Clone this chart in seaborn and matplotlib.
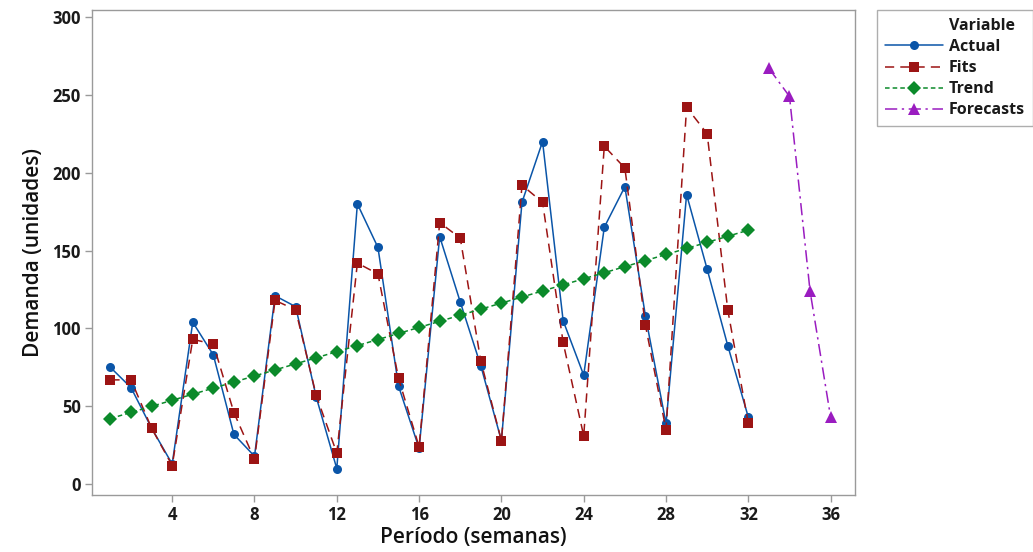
import numpy as np
import pandas as pd
import seaborn as sns
import matplotlib.pyplot as plt
from matplotlib.lines import Line2D

# semanas observadas y pronosticadas
periodo = list(range(1, 33))
periodo_fc = [33, 34, 35, 36]

actual = [75, 62, 36, 13, 104, 83, 32, 18, 121, 114, 56, 10, 180, 152, 63, 23,
          159, 117, 76, 28, 181, 220, 105, 70, 165, 191, 108, 39, 186, 138, 89, 43]
fits = [67, 67, 36, 12, 93, 90, 46, 16, 118, 112, 57, 20, 142, 135, 68, 24,
        168, 158, 79, 28, 192, 181, 91, 31, 217, 203, 102, 35, 242, 225, 112, 39]
trend = [42.2, 46.1, 50.0, 53.9, 57.8, 61.7, 65.6, 69.5, 73.4, 77.3, 81.2, 85.1,
         89.0, 92.9, 96.8, 100.7, 104.6, 108.5, 112.4, 116.3, 120.2, 124.1, 128.0, 131.9,
         135.8, 139.7, 143.6, 147.5, 151.4, 155.3, 159.2, 163.1]
forecasts = [267, 249, 124, 43]

x_ticks = [4, 8, 12, 16, 20, 24, 28, 32, 36]
y_ticks = [0, 50, 100, 150, 200, 250, 300]

sns.set_style("white")
plt.rcParams['font.family'] = ['Open Sans', 'DejaVu Sans']

c_act = "#0a55a8"
c_fit = "#9c1414"
c_tr = "#0b8a2a"
c_fc = "#9a1cc0"

fig = plt.figure(figsize=(10.33, 5.52), dpi=100)
ax = fig.add_axes([0.089, 0.103, 0.739, 0.879])

sns.lineplot(x=periodo, y=actual, ax=ax, color=c_act, marker="o", markersize=6.5,
             markeredgewidth=0, linewidth=1.1, linestyle="-")
sns.lineplot(x=periodo, y=fits, ax=ax, color=c_fit, marker="s", markersize=7,
             markeredgewidth=0, linewidth=1.1, linestyle=(0, (6, 4)))
sns.lineplot(x=periodo, y=trend, ax=ax, color=c_tr, marker="D", markersize=7,
             markeredgewidth=0, linewidth=1.1, linestyle=(0, (3, 2)))
sns.lineplot(x=periodo_fc, y=forecasts, ax=ax, color=c_fc, marker="^", markersize=9,
             markeredgewidth=0, linewidth=1.1, linestyle=(0, (8, 3, 1.5, 3)))

ax.set_xlim(0.1, 37.2)
ax.set_ylim(-7, 304.5)
ax.set_xticks(x_ticks)
ax.set_yticks(y_ticks)
ax.tick_params(axis="both", direction="out", length=5, width=1, color="#9a9a9a",
               labelsize=12, pad=3, bottom=True, left=True, labelcolor="#1a1a1a")
for lab in ax.get_xticklabels() + ax.get_yticklabels():
    lab.set_fontweight("bold")
for s in ax.spines.values():
    s.set_color("#9a9a9a")
    s.set_linewidth(1)

ax.set_xlabel("Período (semanas)", fontsize=15, fontweight="semibold", labelpad=2,
              color="#111111")
ax.set_ylabel("Demanda (unidades)", fontsize=15, fontweight="semibold", labelpad=6,
              color="#111111")

handles = [
    Line2D([], [], color=c_act, marker="o", markersize=6.5, markeredgewidth=0, linewidth=1.1),
    Line2D([], [], color=c_fit, marker="s", markersize=7, markeredgewidth=0, linewidth=1.1,
           linestyle=(0, (6, 4))),
    Line2D([], [], color=c_tr, marker="D", markersize=7, markeredgewidth=0, linewidth=1.1,
           linestyle=(0, (3, 2))),
    Line2D([], [], color=c_fc, marker="^", markersize=9, markeredgewidth=0, linewidth=1.1,
           linestyle=(0, (8, 3, 1.5, 3))),
]
leg = fig.legend(handles, ["Actual", "Fits", "Trend", "Forecasts"], title=" ",
                 loc="upper left", bbox_to_anchor=(0.849, 0.982), frameon=True,
                 fancybox=False, edgecolor="#9a9a9a", fontsize=11.5,
                 title_fontproperties={"weight": "bold", "size": 11.5},
                 handlelength=3.6, handletextpad=0.4, labelspacing=0.32,
                 borderpad=0.5, borderaxespad=0)
for t in leg.get_texts():
    t.set_fontweight("bold")
    t.set_color("#1a1a1a")

# título de la leyenda alineado con los textos
fig.canvas.draw()
r = fig.canvas.get_renderer()
lb = leg.get_texts()[0].get_window_extent(r)
tb = leg.get_title().get_window_extent(r)
fig.text(lb.x0 / fig.bbox.width, (tb.y0 + tb.y1) / 2 / fig.bbox.height, "Variable",
         fontsize=11.5, fontweight="bold", color="#1a1a1a", ha="left", va="center",
         zorder=10)

plt.savefig("out.png", dpi=100)
